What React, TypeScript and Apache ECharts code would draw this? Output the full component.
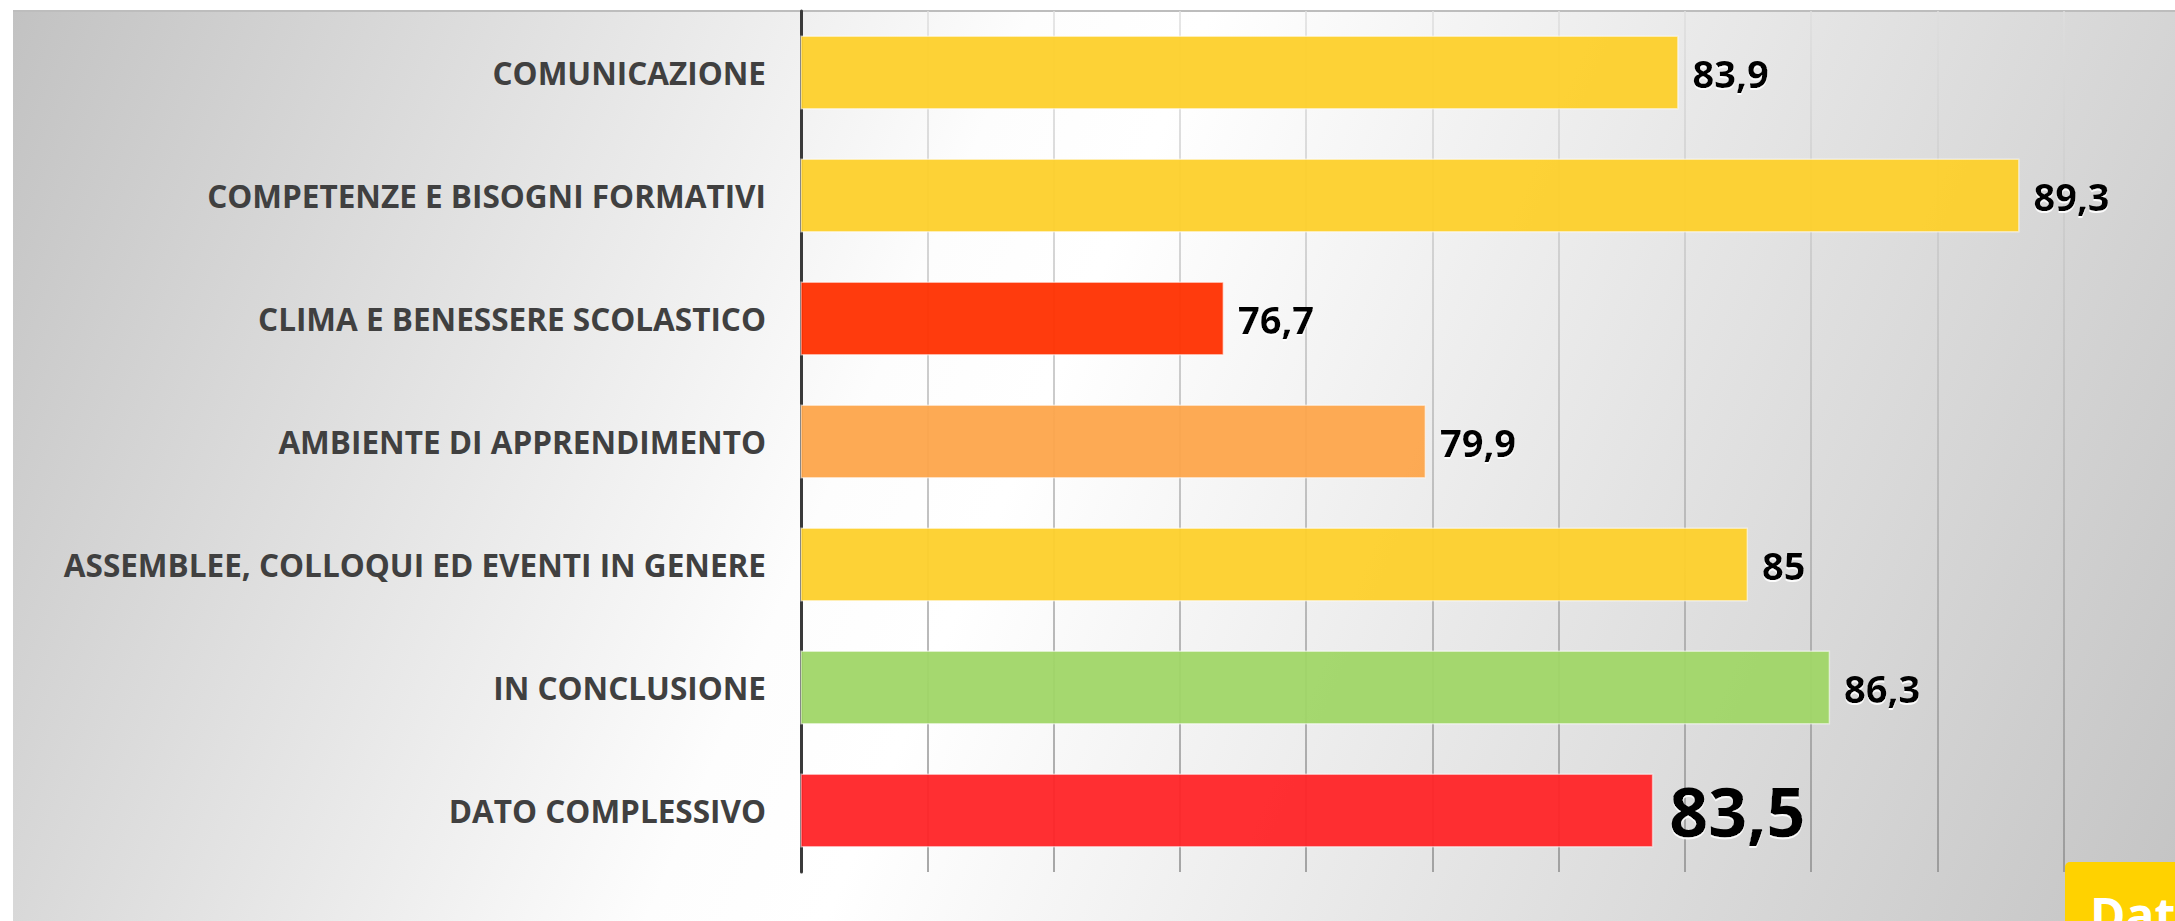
import React, { useEffect, useRef } from "react";
import * as echarts from "echarts";

const categories = [
  "COMUNICAZIONE",
  "COMPETENZE E BISOGNI FORMATIVI",
  "CLIMA E BENESSERE SCOLASTICO",
  "AMBIENTE DI APPRENDIMENTO",
  "ASSEMBLEE, COLLOQUI ED EVENTI IN GENERE",
  "IN CONCLUSIONE",
  "DATO COMPLESSIVO",
];
const values = [83.9, 89.3, 76.7, 79.9, 85, 86.3, 83.5];
const barColors = ["#FDD02B", "#FDD02B", "#FF3000", "#FDA54B", "#FDD02B", "#A0D667", "#FF2427"];
const axisMin = 70;
const axisMax = 92;
const axisStep = 2;
const cornerLabel = "Dato";

const W = 2175;
const H = 921;
const CHART_W = 2190;

export default function App() {
  const ref = useRef<HTMLDivElement | null>(null);

  useEffect(() => {
    if (!ref.current) return;
    const chart = echarts.init(ref.current, null, { renderer: "svg" });
    const lastIdx = values.length - 1;
    const option: any = {
      animation: false,
      backgroundColor: "transparent",
      grid: { left: 801, right: 0, top: 11, bottom: 49, containLabel: false },
      xAxis: {
        type: "value",
        min: axisMin,
        max: axisMax,
        interval: axisStep,
        axisLabel: { show: false },
        axisLine: { show: false },
        axisTick: { show: false },
        splitLine: {
          show: true,
          lineStyle: {
            width: 1.5,
            color: new echarts.graphic.LinearGradient(
              0, 11, 0, 872,
              [
                { offset: 0, color: "#dedede" },
                { offset: 1, color: "#8c8c8c" },
              ],
              true
            ),
          },
        },
      },
      yAxis: {
        type: "category",
        data: categories,
        inverse: true,
        axisLine: { show: true, onZero: false, lineStyle: { color: "#3a3a3a", width: 3 } },
        axisTick: { show: false },
        splitLine: { show: false },
        axisLabel: {
          margin: 35,
          fontSize: 31.5,
          fontWeight: "bold",
          color: "#404040",
          fontFamily: '"Open Sans", sans-serif',
        },
      },
      series: [
        {
          type: "bar",
          barCategoryGap: "40%",
          data: values.map((v, i) => ({
            value: v,
            itemStyle: { color: barColors[i] },
            label: i === lastIdx ? { fontSize: 68, distance: 16 } : undefined,
          })),
          itemStyle: {
            opacity: 0.95,
            borderColor: "rgba(255,255,255,0.55)",
            borderWidth: 1.5,
          },
          label: {
            show: true,
            position: "right",
            distance: 14,
            fontSize: 38,
            fontWeight: "bold",
            color: "#000000",
            opacity: 1,
            fontFamily: '"Open Sans", sans-serif',
            formatter: (p: any) => String(p.value).replace(".", ","),
            textShadowColor: "rgba(255,255,255,0.9)",
            textShadowBlur: 1,
            textShadowOffsetY: 2,
          },
        },
      ],
      graphic: [
        {
          type: "rect",
          x: 2065,
          y: 862,
          shape: { width: 200, height: 100, r: [5, 0, 0, 0] },
          style: { fill: "#FFD200" },
          z: 10,
        },
        {
          type: "text",
          x: 2090,
          y: 914,
          style: {
            text: cornerLabel,
            fill: "#ffffff",
            font: 'bold 48px "Open Sans", sans-serif',
            verticalAlign: "middle",
          },
          z: 11,
        },
      ],
    };
    chart.setOption(option);
    return () => chart.dispose();
  }, []);

  return (
    <div style={{ position: "absolute", left: 0, top: 0, width: W, height: H, overflow: "hidden", background: "#ffffff" }}>
      <div
        style={{
          position: "absolute",
          left: 13,
          top: 10,
          right: 0,
          bottom: 0,
          borderTop: "2px solid #bdbdbd",
          background:
            "linear-gradient(113deg, #c2c2c2 0%, #fdfdfd 40%, #ffffff 47%, #c4c4c4 100%)",
        }}
      />
      <div ref={ref} style={{ position: "absolute", left: 0, top: 0, width: CHART_W, height: H }} />
    </div>
  );
}
